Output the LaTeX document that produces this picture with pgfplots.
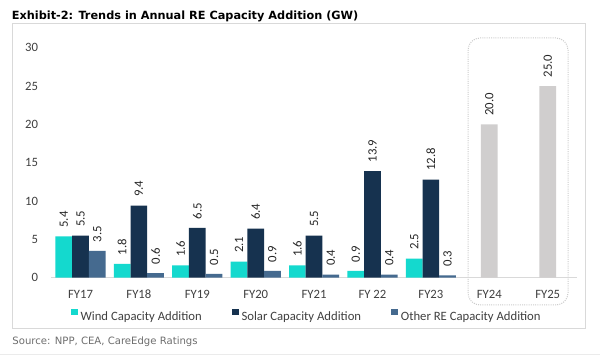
\documentclass[border=0pt]{standalone}
\usepackage{fontspec}
\setmainfont{Carlito}
\newfontfamily\dejavu{DejaVu Sans}
\usepackage{pgfplots}
\pgfplotsset{compat=1.18}

\definecolor{windc}{RGB}{20,217,206}
\definecolor{solarc}{RGB}{22,50,79}
\definecolor{otherc}{RGB}{69,106,143}
\definecolor{projc}{RGB}{208,206,206}
\definecolor{axisc}{RGB}{217,217,217}
\definecolor{framec}{RGB}{217,217,217}
\definecolor{textc}{RGB}{64,64,64}
\definecolor{labc}{RGB}{38,38,38}
\definecolor{srcc}{RGB}{110,110,110}

\pgfplotsset{sqlegend/.style={legend image code/.code={\fill[##1,draw=none] (0bp,1.2bp) rectangle (6.7bp,7.9bp);}}}

\begin{document}
\begin{tikzpicture}
\useasboundingbox (0,0) rectangle (600bp,355bp);
\fill[white] (0,0) rectangle (600bp,355bp);
\draw[framec, line width=0.75bp] (12.3bp,26.7bp) rectangle (585.7bp,331.7bp);
\draw[black!8, line width=1bp] (0,0.5bp) -- (600bp,0.5bp);
\node[anchor=base west, inner sep=0pt, font=\dejavu\bfseries\fontsize{11.3bp}{13bp}\selectfont] at (11.7bp,335.7bp) {Exhibit-2: Trends in Annual RE Capacity Addition (GW)};
\node[anchor=base west, inner sep=0pt, text=srcc, font=\dejavu\fontsize{10.1bp}{12bp}\selectfont] at (12.3bp,10.7bp) {Source: NPP, CEA, CareEdge Ratings};
\draw[black!20, rounded corners=12bp, line width=1bp, dash pattern=on 1bp off 1.2bp] (468bp,50bp) rectangle (568bp,317bp);
\begin{axis}[
  at={(51.3bp,77.3bp)}, anchor=south west,
  scale only axis, width=525.6bp, height=230bp,
  xmin=-0.5, xmax=8.5, ymin=0, ymax=30,
  ybar, bar width=16.7bp,
  xtick={0,...,8}, xticklabels={FY17,FY18,FY19,FY20,FY21,FY 22,FY23,FY24,FY25},
  ytick={0,5,...,30},
  axis x line*=bottom, axis y line*=left,
  x axis line style={draw=axisc, line width=1bp, -},
  y axis line style={draw=none},
  major tick length=0pt,
  tick label style={font=\fontsize{12.7bp}{15bp}\selectfont, text=textc},
  xticklabel style={anchor=base, inner sep=0pt, yshift=-20.3bp},
  yticklabel style={anchor=east, inner sep=0pt, xshift=-13bp},
  /pgf/number format/assume math mode=true,
  nodes near coords={\pgfmathprintnumber[fixed,fixed zerofill,precision=1]{\pgfplotspointmeta}},
  nodes near coords style={rotate=90, anchor=west, inner xsep=8.5bp, inner ysep=0pt, font=\fontsize{12.7bp}{15bp}\selectfont, text=labc},
  legend columns=3,
  legend style={draw=none, fill=none, at={(axis description cs:0.0369,-0.1626)}, anchor=west, inner sep=0pt, nodes={inner sep=0pt}, font=\fontsize{12.7bp}{15bp}\selectfont, text=textc, /tikz/every odd column/.append style={column sep=3bp}, /tikz/every even column/.append style={column sep=30bp}},
  clip=false,
]
\addplot[fill=windc, draw=none, bar shift=-16.7bp, sqlegend] coordinates {(0,5.4) (1,1.8) (2,1.6) (3,2.1) (4,1.6) (5,0.9) (6,2.5)};
\addlegendentry{Wind Capacity Addition}
\addplot[fill=solarc, draw=none, bar shift=0bp, sqlegend] coordinates {(0,5.5) (1,9.4) (2,6.5) (3,6.4) (4,5.5) (5,13.9) (6,12.8)};
\addlegendentry{Solar Capacity Addition}
\addplot[fill=otherc, draw=none, bar shift=16.7bp, sqlegend] coordinates {(0,3.5) (1,0.6) (2,0.5) (3,0.9) (4,0.4) (5,0.4) (6,0.3)};
\addlegendentry{Other RE Capacity Addition}
\addplot[fill=projc, draw=none, bar shift=0bp, forget plot] coordinates {(7,20.0) (8,25.0)};
\end{axis}
\end{tikzpicture}
\end{document}
